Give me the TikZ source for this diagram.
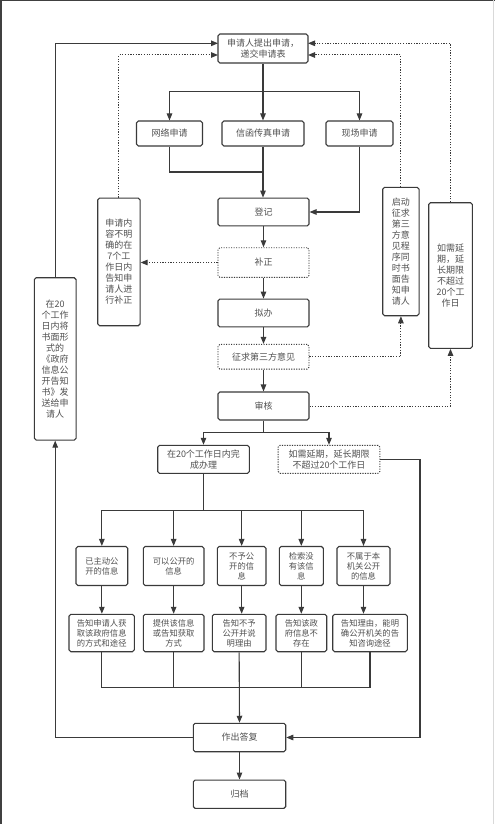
\documentclass[tikz,border=0pt]{standalone}
\usepackage{fontspec}
\newfontfamily\cjk{Noto Sans CJK SC}
\usetikzlibrary{arrows.meta}
\definecolor{lc}{HTML}{3A3A3A}
\definecolor{tc}{HTML}{505050}
\begin{document}
\begin{tikzpicture}[x=1pt,y=-1pt,
  box/.style={draw=lc, line width=1.1pt, rounded corners=1.8pt, inner sep=0pt, align=center, text=tc, font=\cjk\fontsize{9}{11}\selectfont},
  dbox/.style={box, dash pattern=on 1.2pt off 1.3pt, line width=0.9pt},
  sbox/.style={box, font=\cjk\fontsize{8.3}{10}\selectfont},
  ln/.style={draw=lc, line width=1.1pt},
  arr/.style={ln, -{Triangle[length=7pt,width=5.5pt]}},
  darr/.style={draw=lc, line width=1pt, dash pattern=on 1.2pt off 1.5pt, -{Triangle[length=7pt,width=5.5pt]}}]
\useasboundingbox (0,0) rectangle (495,824);
\fill[white] (0,0) rectangle (495,824);
\draw[line width=1.5pt, draw=black!75] (0,0.75) -- (495,0.75);
\draw[line width=1.5pt, draw=black!75] (0.75,0) -- (0.75,824);
\draw[line width=1pt, draw=black!15] (493.5,0) -- (493.5,824);

% main column
\node[box, minimum width=90pt, minimum height=29pt] (top) at (263,48.5) {申请人提出申请，\\递交申请表};
\node[box, minimum width=66pt, minimum height=25pt] (net) at (169.5,133.5) {网络申请};
\node[box, minimum width=82pt, minimum height=25pt] (xin) at (263,133.5) {信函传真申请};
\node[box, minimum width=67pt, minimum height=25pt] (xian) at (359.5,133.5) {现场申请};
\node[box, minimum width=91pt, minimum height=27.7pt] (dj) at (263.5,212) {登记};
\node[dbox, minimum width=91pt, minimum height=29.6pt] (bz) at (263.5,262.5) {补正};
\node[box, minimum width=91pt, minimum height=27.7pt] (nb) at (263.5,313) {拟办};
\node[dbox, minimum width=91pt, minimum height=24.7pt] (zq) at (263.5,356.7) {征求第三方意见};
\node[box, minimum width=91pt, minimum height=28pt] (sh) at (263.5,406) {审核};

% side notes
\node[box, minimum width=42.3pt, minimum height=127.7pt] (la) at (118.9,261.9) {申请内\\容不明\\确的在\\7个工\\作日内\\告知申\\请人进\\行补正};
\node[box, minimum width=41.7pt, minimum height=162.3pt] (lb) at (55.2,358.9) {在20\\个工作\\日内将\\书面形\\式的\\《政府\\信息公\\开告知\\书》发\\送给申\\请人};
\node[box, minimum width=36.3pt, minimum height=128.4pt] (ra) at (400.9,251.5) {启动\\征求\\第三\\方意\\见程\\序同\\时书\\面告\\知申\\请人};
\node[box, minimum width=43.6pt, minimum height=145.6pt] (rb) at (450.5,275.5) {如需延\\期，延\\长期限\\不超过\\20个工\\作日};

% decision
\node[box, minimum width=91.6pt, minimum height=28pt] (d20) at (203.5,459.3) {在20个工作日内完\\成办理};
\node[dbox, minimum width=101.7pt, minimum height=28pt] (ext) at (329,459.3) {如需延期，延长期限\\不超过20个工作日};

% row 1
\node[sbox, minimum width=51.7pt, minimum height=39pt] (r1a) at (101.85,566) {已主动公\\开的信息};
\node[sbox, minimum width=60.7pt, minimum height=39pt] (r1b) at (173.65,566) {可以公开的\\信息};
\node[sbox, minimum width=48.7pt, minimum height=39pt] (r1c) at (241.65,566) {不予公\\开的信\\息};
\node[sbox, minimum width=44pt, minimum height=39pt] (r1d) at (301.3,566) {检索没\\有该信\\息};
\node[sbox, minimum width=53pt, minimum height=39pt] (r1e) at (363.5,566) {不属于本\\机关公开\\的信息};
% row 2
\node[sbox, minimum width=65.3pt, minimum height=37.4pt] (r2a) at (101.65,633) {告知申请人获\\取该政府信息\\的方式和途径};
\node[sbox, minimum width=60.7pt, minimum height=37.4pt] (r2b) at (173.65,633) {提供该信息\\或告知获取\\方式};
\node[sbox, minimum width=53.7pt, minimum height=37.4pt] (r2c) at (239.15,633) {告知不予\\公开并说\\明理由};
\node[sbox, minimum width=50.7pt, minimum height=37.4pt] (r2d) at (301.35,633) {告知该政\\府信息不\\存在};
\node[sbox, minimum width=74.6pt, minimum height=37.4pt] (r2e) at (370,633) {告知理由，能明\\确公开机关的告\\知咨询途径};

\node[box, minimum width=92.4pt, minimum height=28.4pt] (rep) at (239.5,737.5) {作出答复};
\node[box, minimum width=92.4pt, minimum height=28.3pt] (arc) at (239.5,794.2) {归档};

% coordinates
\coordinate (s1) at (263,91.7);
\coordinate (m1) at (263,172);
\coordinate (tl1) at (218,43.3);
\coordinate (tl2) at (218,55);
\coordinate (tr1) at (308,43.3);
\coordinate (tr2) at (308,55);
\coordinate (s2) at (263.5,432.3);
\coordinate (s3) at (203.5,510.7);
\coordinate (c1) at (420,459.3);
\coordinate (m2) at (239.15,687.3);

% connectors top
\draw[arr] (top.south) -- (xin.north);
\draw[arr] (s1) -| (net.north);
\draw[arr] (s1) -| (xian.north);
\draw[ln] (net.south) |- (m1);
\draw[arr] (xin.south) -- (xin.south |- dj.north);
\draw[arr] (xian.south) |- (dj.east);
\draw[arr] (dj) -- (bz);
\draw[arr] (bz) -- (nb);
\draw[arr] (nb) -- (zq);
\draw[arr] (zq) -- (sh);

% side loops
\draw[darr] (bz.west) -- (la.east |- bz.west);
\draw[darr] (la.north) |- (tl2);
\draw[arr] (lb.north) |- (tl1);
\draw[darr] (zq.east) -| (ra.south);
\draw[darr] (ra.north) |- (tr2);
\draw[darr] (sh.east) -| (rb.south);
\draw[darr] (rb.north) |- (tr1);
\draw[arr] (rep.west) -| (lb.south);

% decision
\draw[ln] (sh.south) -- (s2);
\draw[arr] (s2) -| (d20.north);
\draw[arr] (s2) -| (ext.north);
\draw[arr] (ext.east) -- (c1) |- (rep.east);
\draw[ln] (d20.south) -- (s3);
\foreach \n in {r1a,r1b,r1c,r1d,r1e} {
  \draw[arr] (s3) -| (\n.north);
  \draw[arr] (\n.south) -- (\n.south |- r2a.north);
}
\foreach \n in {r2a,r2b,r2d,r2e} {
  \draw[ln] (\n.south) |- (m2);
}
\draw[arr] (r2c.south) -- (rep.north);
\draw[arr] (rep) -- (arc);
\end{tikzpicture}
\end{document}
